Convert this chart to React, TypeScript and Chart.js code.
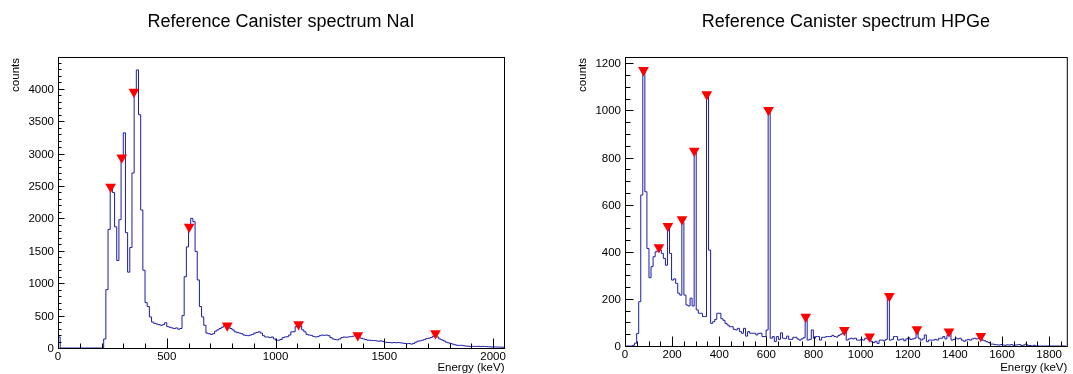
import React, { useEffect, useRef } from 'react';
import { Chart, registerables } from 'chart.js';

Chart.register(...registerables);

// ---------------- DATA ----------------
// NaI spectrum: 10 keV bins starting at 0 keV
const NAI_TITLE = 'Reference Canister spectrum NaI';
const NAI_BIN_START = 0;
const NAI_BIN_WIDTH = 10;
const NAI_COUNTS = [
  170, 0, 0, 0, 0, 0, 0, 0, 0, 0,
  0, 0, 0, 0, 0, 0, 0, 0, 0, 0,
  0, 140, 900, 1830, 2480, 2400, 1870, 1350, 1980, 2900,
  3320, 1780, 1170, 1550, 2700, 3960, 4290, 3600, 2130, 1200,
  700, 640, 480, 400, 380, 370, 360, 350, 360, 390,
  330, 320, 310, 300, 310, 290, 300, 500, 1100, 1560,
  1840, 2000, 1950, 1490, 1050, 640, 480, 350, 230, 220,
  210, 220, 260, 280, 300, 320, 340, 350, 350, 300,
  280, 250, 240, 230, 220, 200, 195, 190, 200, 210,
  230, 240, 250, 230, 190, 170, 170, 160, 170, 140,
  120, 120, 130, 160, 170, 175, 200, 250, 250, 330,
  380, 340, 280, 250, 210, 200, 195, 180, 170, 175,
  190, 200, 195, 200, 190, 160, 140, 130, 125, 140,
  160, 170, 165, 170, 175, 180, 190, 180, 160, 150,
  140, 130, 120, 120, 115, 115, 110, 105, 110, 100,
  90, 85, 85, 80, 85, 80, 85, 80, 75, 70,
  65, 70, 60, 70, 90, 105, 110, 120, 130, 145,
  150, 160, 180, 185, 170, 140, 125, 110, 90, 80,
  70, 60, 50, 42, 40, 42, 35, 30, 28, 26,
  26, 25, 24, 26, 22, 24, 22, 20, 18, 16,
  16, 15, 14, 14, 12,
];
const NAI_PEAK_ENERGIES = [242, 293, 349, 603, 778, 1106, 1378, 1735];
const NAI_PEAK_COUNTS = [2488, 2937, 3953, 1870, 345, 365, 196, 225];
const NAI_X_MAX = 2050;
const NAI_Y_MAX = 4490;
const NAI_X_MAJOR = 500;
const NAI_X_MINOR = 100;
const NAI_Y_MAJOR = 500;
const NAI_Y_MINOR = 100;

// HPGe spectrum: 8.72 keV bins starting at -2.9 keV
const HPGE_TITLE = 'Reference Canister spectrum HPGe';
const HPGE_BIN_START = -2.9;
const HPGE_BIN_WIDTH = 8.72;
const HPGE_COUNTS = [
  0, 0, 0, 0, 3, 12, 53, 188, 641, 1168,
  655, 414, 290, 337, 379, 400, 407, 407, 393, 372,
  343, 513, 393, 280, 285, 266, 224, 216, 525, 216,
  174, 170, 203, 170, 825, 153, 139, 139, 125, 125,
  1070, 407, 96, 103, 113, 139, 139, 116, 109, 96,
  89, 82, 82, 71, 68, 75, 61, 54, 75, 42,
  61, 54, 54, 54, 47, 54, 54, 40, 40, 68,
  1000, 33, 40, 19, 40, 28, 56, 33, 31, 42,
  28, 28, 37, 37, 30, 25, 30, 35, 125, 25,
  28, 68, 33, 40, 40, 25, 37, 37, 40, 40,
  40, 45, 40, 38, 45, 50, 54, 65, 25, 30,
  33, 30, 33, 25, 25, 28, 25, 33, 30, 38,
  18, 15, 20, 11, 25, 25, 22, 28, 210, 25,
  28, 40, 40, 25, 28, 30, 22, 30, 35, 28,
  30, 33, 62, 33, 25, 30, 47, 18, 25, 25,
  25, 28, 25, 33, 33, 40, 30, 45, 55, 25,
  28, 33, 30, 33, 25, 20, 25, 28, 25, 30,
  33, 30, 33, 40, 25, 22, 18, 15, 8, 8,
  6, 5, 4, 6, 4, 3, 5, 4, 6, 3,
  4, 5, 6, 2, 4, 8, 3, 2, 0, 3,
  0, 0, 0, 0, 0, 0, 0, 0, 0, 0,
  0, 0, 0, 0, 0,
];
const HPGE_PEAK_ENERGIES = [78.5, 144, 182, 242, 294, 347, 609, 767, 931, 1038, 1122, 1239, 1375, 1510];
const HPGE_PEAK_COUNTS = [1171, 419, 509, 538, 829, 1068, 1002, 124, 68, 40, 212, 71, 61, 42];
const HPGE_X_MAX = 1875;
const HPGE_Y_MAX = 1227;
const HPGE_X_MAJOR = 200;
const HPGE_X_MINOR = 50;
const HPGE_Y_MAJOR = 200;
const HPGE_Y_MINOR = 50;

const X_TITLE = 'Energy (keV)';
const Y_TITLE = 'counts';

// ---------------- STYLE ----------------
const FONT = '"Liberation Sans", Arial, Helvetica, sans-serif';
const LINE_COLOR = 'rgb(28,28,168)';
const MARKER_COLOR = '#ff0000';

interface PanelDef {
  title: string;
  counts: number[];
  binStart: number;
  binWidth: number;
  peakE: number[];
  peakC: number[];
  xMax: number;
  yMax: number;
  xMajor: number;
  xMinor: number;
  yMajor: number;
  yMinor: number;
}

interface PanelStyle {
  left: number;
  width: number;
  padding: { left: number; right: number; top: number; bottom: number };
  yTitleX: number;
  xTickMajor: number;
  xTickMinor: number;
  yTickMajor: number;
  yTickMinor: number;
}

function histPoints(d: PanelDef) {
  const pts: { x: number; y: number }[] = [];
  const n = d.counts.length;
  pts.push({ x: d.binStart, y: 0 });
  for (let i = 0; i < n; i++) {
    pts.push({ x: d.binStart + i * d.binWidth, y: d.counts[i] });
  }
  const end = d.binStart + n * d.binWidth;
  pts.push({ x: end, y: d.counts[n - 1] });
  pts.push({ x: end, y: 0 });
  return pts;
}

function isMultiple(v: number, step: number) {
  const r = v / step;
  return Math.abs(r - Math.round(r)) < 1e-6;
}

function rootAxesPlugin(d: PanelDef, s: PanelStyle) {
  return {
    id: 'rootAxes',
    afterDraw(chart: any) {
      const { ctx, chartArea: a, scales } = chart;
      const xs = scales.x;
      const ys = scales.y;
      ctx.save();
      ctx.strokeStyle = '#000';
      ctx.fillStyle = '#000';
      ctx.lineWidth = 1;
      // frame
      ctx.strokeRect(a.left + 0.5, a.top + 0.5, a.right - a.left, a.bottom - a.top);
      const bottom = a.bottom + 0.5;
      const left = a.left + 0.5;
      // x ticks
      ctx.beginPath();
      for (let i = 0; i * d.xMinor <= d.xMax + 1e-9; i++) {
        const v = i * d.xMinor;
        const px = Math.round(xs.getPixelForValue(v)) + 0.5;
        const len = isMultiple(v, d.xMajor) ? s.xTickMajor : s.xTickMinor;
        ctx.moveTo(px, bottom);
        ctx.lineTo(px, bottom - len);
      }
      // y ticks
      for (let i = 0; i * d.yMinor <= d.yMax + 1e-9; i++) {
        const v = i * d.yMinor;
        const py = Math.round(ys.getPixelForValue(v)) + 0.5;
        const len = isMultiple(v, d.yMajor) ? s.yTickMajor : s.yTickMinor;
        ctx.moveTo(left, py);
        ctx.lineTo(left + len, py);
      }
      ctx.stroke();
      // tick labels
      ctx.font = `11.5px ${FONT}`;
      ctx.textBaseline = 'alphabetic';
      ctx.textAlign = 'center';
      for (let i = 0; i * d.xMajor <= d.xMax + 1e-9; i++) {
        const v = i * d.xMajor;
        ctx.fillText(String(v), xs.getPixelForValue(v), a.bottom + 12);
      }
      ctx.textAlign = 'right';
      for (let i = 0; i * d.yMajor <= d.yMax + 1e-9; i++) {
        const v = i * d.yMajor;
        ctx.fillText(String(v), a.left - 4, ys.getPixelForValue(v) + 4);
      }
      // axis titles
      ctx.textAlign = 'right';
      ctx.fillText(X_TITLE, a.right + 0.5, 371);
      ctx.save();
      ctx.translate(s.yTitleX, a.top + 1);
      ctx.rotate(-Math.PI / 2);
      ctx.textAlign = 'right';
      ctx.fillText(Y_TITLE, 0, 0);
      ctx.restore();
      // title
      ctx.font = `18px ${FONT}`;
      ctx.textAlign = 'center';
      ctx.fillText(d.title, (a.left + a.right) / 2, 27);
      ctx.restore();
    },
  };
}

function Panel({ def, style }: { def: PanelDef; style: PanelStyle }) {
  const ref = useRef<HTMLCanvasElement | null>(null);
  useEffect(() => {
    const canvas = ref.current;
    if (!canvas) return;
    const chart = new Chart(canvas, {
      type: 'line',
      data: {
        datasets: [
          {
            data: def.peakE.map((e, i) => ({ x: e, y: def.peakC[i] })),
            showLine: false,
            pointStyle: 'triangle',
            rotation: 180,
            pointRadius: 6.2,
            pointBackgroundColor: MARKER_COLOR,
            pointBorderColor: MARKER_COLOR,
            pointBorderWidth: 0,
            order: 0,
          } as any,
          {
            data: histPoints(def),
            borderColor: LINE_COLOR,
            borderWidth: 1,
            pointRadius: 0,
            stepped: 'before',
            fill: false,
            tension: 0,
            order: 1,
          } as any,
        ],
      },
      options: {
        responsive: false,
        animation: false,
        events: [],
        layout: { padding: style.padding },
        plugins: {
          legend: { display: false },
          title: { display: false },
          tooltip: { enabled: false },
        },
        scales: {
          x: { type: 'linear', min: 0, max: def.xMax, display: false },
          y: { type: 'linear', min: 0, max: def.yMax, display: false },
        },
      },
      plugins: [rootAxesPlugin(def, style)],
    });
    return () => chart.destroy();
  }, [def, style]);
  return (
    <canvas
      ref={ref}
      width={style.width}
      height={374}
      style={{ position: 'absolute', left: style.left, top: 0, width: style.width, height: 374 }}
    />
  );
}

const NAI_DEF: PanelDef = {
  title: NAI_TITLE,
  counts: NAI_COUNTS,
  binStart: NAI_BIN_START,
  binWidth: NAI_BIN_WIDTH,
  peakE: NAI_PEAK_ENERGIES,
  peakC: NAI_PEAK_COUNTS,
  xMax: NAI_X_MAX,
  yMax: NAI_Y_MAX,
  xMajor: NAI_X_MAJOR,
  xMinor: NAI_X_MINOR,
  yMajor: NAI_Y_MAJOR,
  yMinor: NAI_Y_MINOR,
};

const HPGE_DEF: PanelDef = {
  title: HPGE_TITLE,
  counts: HPGE_COUNTS,
  binStart: HPGE_BIN_START,
  binWidth: HPGE_BIN_WIDTH,
  peakE: HPGE_PEAK_ENERGIES,
  peakC: HPGE_PEAK_COUNTS,
  xMax: HPGE_X_MAX,
  yMax: HPGE_Y_MAX,
  xMajor: HPGE_X_MAJOR,
  xMinor: HPGE_X_MINOR,
  yMajor: HPGE_Y_MAJOR,
  yMinor: HPGE_Y_MINOR,
};

const NAI_STYLE: PanelStyle = {
  left: 0,
  width: 536,
  padding: { left: 58, right: 32, top: 57, bottom: 26 },
  yTitleX: 18.5,
  xTickMajor: 10,
  xTickMinor: 5,
  yTickMajor: 6,
  yTickMinor: 3,
};

const HPGE_STYLE: PanelStyle = {
  left: 536,
  width: 537,
  padding: { left: 89, right: 1, top: 57, bottom: 28 },
  yTitleX: 50,
  xTickMajor: 10,
  xTickMinor: 5,
  yTickMajor: 8,
  yTickMinor: 5,
};

export default function App() {
  useEffect(() => {
    document.body.style.margin = '0';
    document.body.style.background = '#fff';
  }, []);
  return (
    <div style={{ position: 'absolute', left: 0, top: 0, width: 1073, height: 374, background: '#fff' }}>
      <Panel def={NAI_DEF} style={NAI_STYLE} />
      <Panel def={HPGE_DEF} style={HPGE_STYLE} />
    </div>
  );
}
